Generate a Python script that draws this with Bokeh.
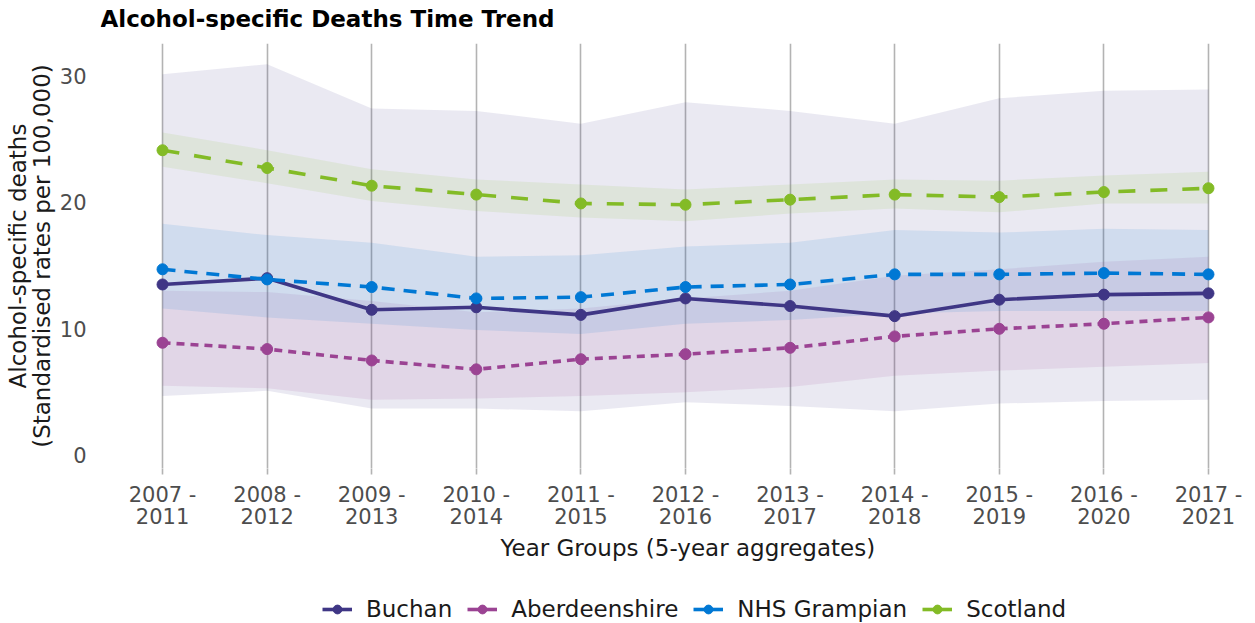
from bokeh.plotting import figure
from bokeh.layouts import column
from bokeh.models import ColumnDataSource, Range1d, FixedTicker, Legend, LegendItem, Title, Label
from bokeh.embed import file_html
from bokeh.resources import INLINE

periods = ["2007 -\n2011", "2008 -\n2012", "2009 -\n2013", "2010 -\n2014", "2011 -\n2015",
           "2012 -\n2016", "2013 -\n2017", "2014 -\n2018", "2015 -\n2019", "2016 -\n2020",
           "2017 -\n2021"]

buchan = [13.5, 14.0, 11.5, 11.7, 11.1, 12.4, 11.8, 11.0, 12.3, 12.7, 12.8]
buchan_lo = [4.7, 5.1, 3.7, 3.7, 3.5, 4.2, 3.9, 3.5, 4.1, 4.3, 4.4]
buchan_hi = [30.1, 30.9, 27.4, 27.2, 26.2, 27.9, 27.2, 26.2, 28.2, 28.8, 28.9]

aberdeenshire = [8.9, 8.4, 7.5, 6.8, 7.6, 8.0, 8.5, 9.4, 10.0, 10.4, 10.9]
aberdeenshire_lo = [5.5, 5.3, 4.4, 4.5, 4.7, 5.0, 5.4, 6.3, 6.7, 7.0, 7.3]
aberdeenshire_hi = [13.0, 12.9, 12.2, 11.3, 11.6, 12.4, 13.0, 14.2, 14.7, 15.3, 15.7]

grampian = [14.7, 13.9, 13.3, 12.4, 12.5, 13.3, 13.5, 14.3, 14.3, 14.4, 14.3]
grampian_lo = [11.6, 10.9, 10.4, 9.9, 9.6, 10.4, 10.7, 11.2, 11.4, 11.4, 11.4]
grampian_hi = [18.3, 17.4, 16.8, 15.7, 15.8, 16.5, 16.8, 17.8, 17.6, 17.9, 17.8]

scotland = [24.1, 22.7, 21.3, 20.6, 19.9, 19.8, 20.2, 20.6, 20.4, 20.8, 21.1]
scotland_lo = [22.8, 21.5, 20.1, 19.3, 18.8, 18.5, 19.1, 19.5, 19.2, 19.9, 19.9]
scotland_hi = [25.5, 24.1, 22.6, 21.8, 21.4, 21.0, 21.4, 21.8, 21.7, 22.1, 22.4]

names = ["Buchan", "Aberdeenshire", "NHS Grampian", "Scotland"]
colors = ["#3F3685", "#9B4393", "#0078D4", "#83BB26"]
dashes = ["solid", "8 6", "13 9", "17 15"]
chart_title = "Alcohol-specific Deaths Time Trend"

FONT = "DejaVu Sans"
xs = list(range(len(periods)))

# title strip (its frame is aligned with the chart frame by the column layout)
tf = figure(width=1248, height=30, output_backend="svg", toolbar_location=None,
            x_range=Range1d(0, 1), y_range=Range1d(0, 1),
            min_border_left=0, min_border_right=0, min_border_top=0, min_border_bottom=0)
tf.axis.visible = False
tf.grid.grid_line_color = None
tf.outline_line_color = None
tf.add_layout(Label(x=0, y=12, x_units="screen", y_units="screen", text=chart_title,
                    text_font=FONT, text_font_size="23px", text_font_style="bold",
                    text_color="#000000", text_baseline="middle", text_align="left"))

p = figure(width=1248, height=536, output_backend="svg", toolbar_location=None,
           x_range=Range1d(-0.593, 10.354), y_range=Range1d(-1.03, 32.53),
           min_border_left=100, min_border_right=3, min_border_top=13, min_border_bottom=98)
p.outline_line_color = None
p.background_fill_color = "white"

series = [
    (buchan, buchan_lo, buchan_hi),
    (aberdeenshire, aberdeenshire_lo, aberdeenshire_hi),
    (grampian, grampian_lo, grampian_hi),
    (scotland, scotland_lo, scotland_hi),
]

for (vals, lo, hi), c in zip(series, colors):
    src = ColumnDataSource(dict(x=xs, y=vals, lo=lo, hi=hi))
    p.varea(x="x", y1="lo", y2="hi", source=src, fill_color=c, fill_alpha=0.11)

for (vals, lo, hi), c, d in zip(series, colors, dashes):
    src = ColumnDataSource(dict(x=xs, y=vals))
    p.line("x", "y", source=src, line_color=c, line_width=3.6, line_dash=d)
    p.scatter("x", "y", source=src, size=11, fill_color=c, line_color=c)

# axes
p.xaxis.ticker = FixedTicker(ticks=xs)
p.xaxis.major_label_overrides = {i: lab for i, lab in enumerate(periods)}
p.yaxis.ticker = FixedTicker(ticks=[0, 10, 20, 30])
for ax in (p.xaxis[0], p.yaxis[0]):
    ax.axis_line_color = None
    ax.minor_tick_line_color = None
    ax.major_label_text_font = FONT
    ax.major_label_text_font_size = "21px"
    ax.major_label_text_color = "#4D4D4D"
    ax.axis_label_text_font = FONT
    ax.axis_label_text_font_size = "23px"
    ax.axis_label_text_font_style = "normal"
    ax.axis_label_text_color = "#1A1A1A"
p.xaxis.major_label_text_line_height = 0.95
p.yaxis.axis_label_text_line_height = 0.9
p.yaxis.major_tick_line_color = None
p.yaxis.major_label_standoff = 8
p.xaxis.major_tick_line_color = "#B3B3B3"
p.xaxis.major_tick_line_width = 1.6
p.xaxis.major_tick_out = 6
p.xaxis.major_tick_in = 0
p.xaxis.major_label_standoff = 8
p.yaxis.axis_label = "Alcohol-specific deaths\n(Standardised rates per 100,000)"
p.yaxis.axis_label_standoff = 2

# x-axis title (centred on the full, wider panel of the original)
xtitle = Title(text="Year Groups (5-year aggregates)", align="left", offset=400,
               text_font=FONT, text_font_size="23px", text_font_style="normal",
               text_color="#1A1A1A", standoff=0)
p.add_layout(xtitle, "below")

p.ygrid.grid_line_color = None
p.xgrid.grid_line_color = "#B3B3B3"
p.xgrid.grid_line_width = 1.6

# legend strip below the chart
lg = figure(width=1248, height=56, output_backend="svg", toolbar_location=None,
            x_range=Range1d(0, 1), y_range=Range1d(0, 1),
            min_border_left=0, min_border_right=0, min_border_top=0, min_border_bottom=0)
lg.axis.visible = False
lg.grid.grid_line_color = None
lg.outline_line_color = None
nan = float("nan")
items = []
for c, n in zip(colors, names):
    dsrc = ColumnDataSource(dict(x=[nan], y=[nan]))
    dl = lg.line("x", "y", source=dsrc, line_color=c, line_width=3.6)
    ds = lg.scatter("x", "y", source=dsrc, size=11, fill_color=c, line_color=c)
    items.append(LegendItem(label=n, renderers=[dl, ds]))

legend = Legend(items=items, orientation="horizontal", location=(222, 0),
                label_text_font=FONT, label_text_font_size="23px", label_text_color="#1A1A1A",
                glyph_width=30, glyph_height=22, label_standoff=14, spacing=15,
                border_line_color=None, background_fill_alpha=0, padding=2, margin=0)
lg.add_layout(legend, "center")

layout = column(tf, p, lg, spacing=0)
open("out.html", "w").write(file_html(layout, INLINE))
